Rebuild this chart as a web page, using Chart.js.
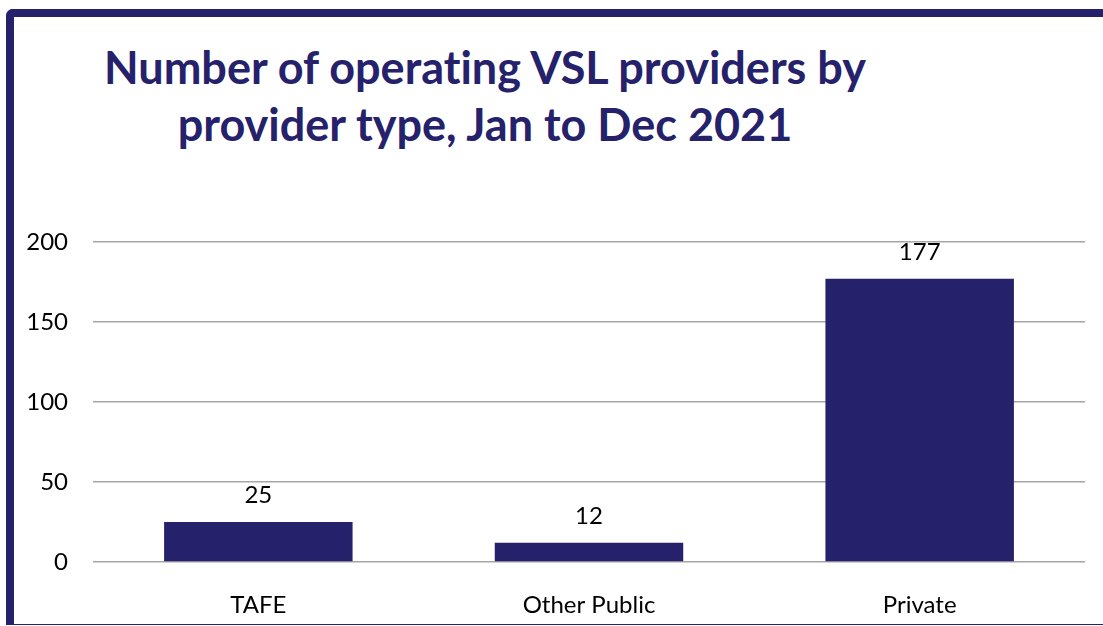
<!DOCTYPE html>
<html>
<head>
<meta charset="utf-8">
<script src="https://cdn.jsdelivr.net/npm/chart.js@4/dist/chart.umd.min.js"></script>
<style>
  html, body { margin: 0; padding: 0; background: #fff; overflow: hidden; }
  #wrap { position: relative; width: 1103px; height: 626px; overflow: hidden; }
  #frame {
    position: absolute; left: 6px; top: 9px; width: 1200px; height: 616px;
    box-sizing: border-box;
    border-left: 8px solid #25216b; border-top: 8px solid #25216b;
    border-bottom: 1.5px solid #25216b; border-top-left-radius: 7px;
  }
  #title {
    position: absolute; left: 85px; width: 800px; top: 39px;
    text-align: center; color: #25216b;
    font: bold 45px Lato, sans-serif; line-height: 57px;
    font-variant-ligatures: none;
  }
  canvas { position: absolute; left: 0; top: 0; }
</style>
</head>
<body>
<div id="wrap">
  <div id="frame"></div>
  <div id="title">Number of operating VSL providers by<br>provider type, Jan to Dec 2021</div>
  <canvas id="myChart" width="1103" height="626"></canvas>
</div>
<script>
'use strict';

let categories = ['TAFE', 'Other Public', 'Private'];
let providers = [25, 12, 177];
let yTicks = [0, 50, 100, 150, 200];

let navy = '#25216b';

// value labels above each bar
let barLabels = {
  id: 'barLabels',
  afterDatasetsDraw(chart) {
    let ctx = chart.ctx;
    let meta = chart.getDatasetMeta(0);
    ctx.save();
    ctx.font = '24px Lato, sans-serif';
    ctx.fillStyle = '#000';
    ctx.textAlign = 'center';
    ctx.textBaseline = 'alphabetic';
    meta.data.forEach(function (bar, i) {
      ctx.fillText(String(providers[i]), bar.x, bar.y - 19);
    });
    ctx.restore();
  }
};

let ctx = document.getElementById('myChart').getContext('2d');
let myChart = new Chart(ctx, {
  type: 'bar',
  data: {
    labels: categories,
    datasets: [{
      label: 'Providers',
      data: providers,
      backgroundColor: navy,
      barPercentage: 0.57,
      categoryPercentage: 1
    }]
  },
  options: {
    responsive: false,
    animation: false,
    layout: { padding: { top: 242, right: 18, left: 0, bottom: 0 } },
    plugins: {
      legend: { display: false },
      tooltip: { enabled: false }
    },
    scales: {
      x: {
        grid: { display: false },
        border: { display: false },
        ticks: { color: '#000', font: { family: 'Lato', size: 24 }, padding: 21 },
        afterFit: function (scale) { scale.height = 64; }
      },
      y: {
        min: 0,
        max: 200,
        afterBuildTicks: function (scale) {
          scale.ticks = yTicks.map(function (v) { return { value: v }; });
        },
        grid: { color: '#a6a6a6', lineWidth: 1.5, drawTicks: false },
        border: { display: false },
        ticks: { color: '#000', font: { family: 'Lato', size: 24 }, padding: 25 },
        afterFit: function (scale) { scale.width = 93; }
      }
    }
  },
  plugins: [barLabels]
});
</script>
</body>
</html>
